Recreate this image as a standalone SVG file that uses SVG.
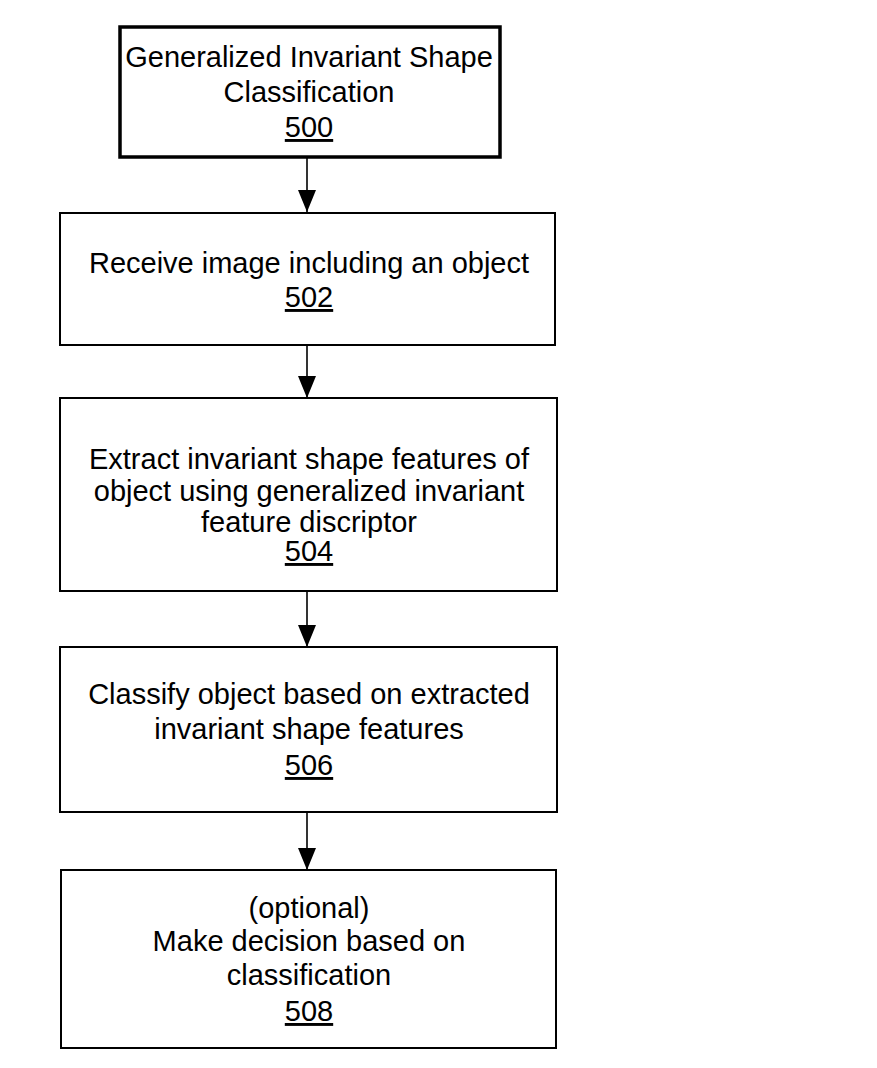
<svg xmlns="http://www.w3.org/2000/svg" width="877" height="1068" viewBox="0 0 877 1068">
<style>
.box{fill:#fff;stroke:#000;stroke-width:2}
.thick{stroke-width:3.5}
text{font-family:"Liberation Sans",Arial,sans-serif;font-size:29px;fill:#000;text-anchor:middle}
.num{text-decoration:underline}
.conn line{stroke:#000;stroke-width:1.6;marker-end:url(#arr)}
</style>
<defs>
<marker id="arr" viewBox="0 0 22 18" refX="22" refY="9" markerWidth="22" markerHeight="18" markerUnits="userSpaceOnUse" orient="auto">
<path d="M0,0 L22,9 L0,18 Z" fill="#000"/>
</marker>
</defs>
<rect width="877" height="1068" fill="#fff"/>
<g class="conn">
<line x1="307" y1="158" x2="307" y2="212"/>
<line x1="307" y1="345" x2="307" y2="398"/>
<line x1="307" y1="591" x2="307" y2="647"/>
<line x1="307" y1="812" x2="307" y2="870"/>
</g>
<g id="n500">
<rect class="box thick" x="120" y="27" width="380" height="130"/>
<text x="309" y="67">Generalized Invariant Shape</text>
<text x="309" y="102">Classification</text>
<text x="309" y="137" class="num">500</text>
</g>
<g id="n502">
<rect class="box" x="60" y="213" width="495" height="132"/>
<text x="309" y="273">Receive image including an object</text>
<text x="309" y="307" class="num">502</text>
</g>
<g id="n504">
<rect class="box" x="60" y="398" width="497" height="193"/>
<text x="309" y="469">Extract invariant shape features of</text>
<text x="309" y="501">object using generalized invariant</text>
<text x="309" y="532">feature discriptor</text>
<text x="309" y="561" class="num">504</text>
</g>
<g id="n506">
<rect class="box" x="60" y="647" width="497" height="165"/>
<text x="309" y="704">Classify object based on extracted</text>
<text x="309" y="739">invariant shape features</text>
<text x="309" y="775" class="num">506</text>
</g>
<g id="n508">
<rect class="box" x="61" y="870" width="495" height="178"/>
<text x="309" y="918">(optional)</text>
<text x="309" y="951">Make decision based on</text>
<text x="309" y="985">classification</text>
<text x="309" y="1021" class="num">508</text>
</g>
</svg>
